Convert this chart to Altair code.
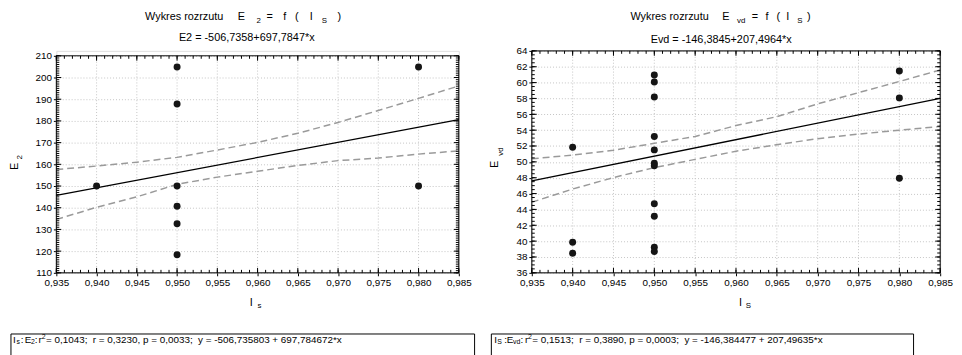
import altair as alt
import pandas as pd

FONT = "Liberation Sans"

# ---------------- data ----------------
x_ticks = [0.935, 0.94, 0.945, 0.95, 0.955, 0.96, 0.965, 0.97, 0.975, 0.98, 0.985]
x_minor = [round(0.935 + 0.001 * i, 3) for i in range(51)]

# left panel: E2 = f(Is)
e2_x = [0.94, 0.95, 0.95, 0.95, 0.95, 0.95, 0.95, 0.98, 0.98]
e2_y = [150, 204.8, 187.8, 150, 140.7, 132.6, 118.3, 204.8, 150]
band_x = [0.935, 0.94, 0.945, 0.95, 0.955, 0.96, 0.965, 0.97, 0.975, 0.98, 0.985]
e2_upper = [157.6, 159.2, 161.0, 163.2, 166.6, 170.1, 174.3, 179.3, 184.8, 190.4, 196.1]
e2_lower = [134.6, 140.2, 145.0, 150.8, 154.1, 156.8, 159.5, 161.7, 162.9, 164.7, 166.2]
fit_x = [0.935, 0.985]
e2_fit = [145.7, 180.6]
e2_yticks = [110, 120, 130, 140, 150, 160, 170, 180, 190, 200, 210]
e2_yminor = list(range(110, 211))

# right panel: Evd = f(Is)
evd_x = [0.94] * 3 + [0.95] * 11 + [0.98] * 3
evd_y = [51.84, 39.85, 38.48,
         60.97, 60.06, 58.19, 53.21, 51.51, 49.81, 49.52, 44.71, 43.13, 39.23, 38.69,
         61.47, 58.07, 47.94]
evd_upper = [50.39, 50.85, 51.47, 52.34, 53.2, 54.58, 55.7, 57.32, 58.73, 60.14, 61.59]
evd_lower = [44.91, 46.57, 48.02, 49.27, 50.31, 51.34, 52.17, 52.92, 53.5, 54.0, 54.46]
evd_fit = [47.6, 58.0]
evd_yticks = [36, 38, 40, 42, 44, 46, 48, 50, 52, 54, 56, 58, 60, 62, 64]
evd_yminor = [36 + 0.5 * i for i in range(57)]

NB = "\u00a0"
GRID = "#c4c4c4"


def txt(text, x, y, size=11, angle=0, align="left"):
    return alt.Chart(alt.Data(values=[{}])).mark_text(
        font=FONT, fontSize=size, color="black", align=align, baseline="middle",
        angle=angle,
    ).encode(x=alt.value(x), y=alt.value(y), text=alt.value(text))


def panel(px, py, upper, lower, fit, ydom, yticks, yminor, W, H, T, texts, box):
    xs = alt.Scale(domain=[0.935, 0.985], nice=False, zero=False)
    ys = alt.Scale(domain=ydom, nice=False, zero=False, range=[H, T])
    pts = pd.DataFrame({"x": px, "y": py})
    bands = pd.DataFrame({
        "x": band_x + band_x,
        "y": upper + lower,
        "b": ["u"] * len(band_x) + ["l"] * len(band_x),
    })
    fitdf = pd.DataFrame({"x": fit_x, "y": fit})

    axis_common = dict(
        gridColor=GRID, gridDash=[1, 2], gridWidth=1,
        domain=False, tickColor="black", tickSize=3, labelFont=FONT,
        labelFontSize=10, labelColor="black", title=None, labelPadding=2,
        labelFlush=False, labelOverlap=False,
    )
    xaxis = alt.Axis(values=x_ticks, grid=False,
                     labelExpr="replace(format(datum.value, '.3f'), '.', ',')",
                     **axis_common)
    yaxis = alt.Axis(values=yticks, format="d", grid=True, **axis_common)

    def X(f):
        return alt.X(f, scale=xs, axis=xaxis)

    def Y(f):
        return alt.Y(f, scale=ys, axis=yaxis)

    xM = pd.DataFrame({"t": x_ticks})
    xgrid = alt.Chart(xM).mark_rule(color=GRID, strokeDash=[1, 2], strokeWidth=1).encode(
        x=X("t:Q"), y=alt.value(T), y2=alt.value(H))

    band_layer = alt.Chart(bands).mark_line(
        color="#9a9a9a", strokeWidth=1.5, strokeDash=[7, 4]
    ).encode(x=X("x:Q"), y=Y("y:Q"), detail="b:N")
    fit_layer = alt.Chart(fitdf).mark_line(color="black", strokeWidth=1.3).encode(
        x=X("x:Q"), y=Y("y:Q"))
    points = alt.Chart(pts).mark_circle(size=50, color="#151515", opacity=1).encode(
        x=X("x:Q"), y=Y("y:Q"))

    xm = pd.DataFrame({"t": x_minor})
    ym = pd.DataFrame({"t": yminor})
    yM = pd.DataFrame({"t": yticks})
    tick_layers = []
    for df, ln in ((xm, 3), (xM, 5)):
        for y0, y1 in ((H, H - ln), (T, T + ln)):
            tick_layers.append(alt.Chart(df).mark_rule(color="black", strokeWidth=1).encode(
                x=X("t:Q"), y=alt.value(y0), y2=alt.value(y1)))
    for df, ln in ((ym, 3), (yM, 5)):
        for x0, x1 in ((0, ln), (W, W - ln)):
            tick_layers.append(alt.Chart(df).mark_rule(color="black", strokeWidth=1).encode(
                y=Y("t:Q"), x=alt.value(x0), x2=alt.value(x1)))

    frame = alt.Chart(alt.Data(values=[{}])).mark_rect(
        fillOpacity=0, stroke="black", strokeWidth=1
    ).encode(x=alt.value(0), x2=alt.value(W), y=alt.value(T), y2=alt.value(H))

    bx0, by0, bx1, by1 = box
    rect = alt.Chart(alt.Data(values=[{}])).mark_rect(
        fillOpacity=0, stroke="black", strokeWidth=1
    ).encode(x=alt.value(bx0), x2=alt.value(bx1), y=alt.value(by0), y2=alt.value(by1))

    text_layers = [txt(*t) for t in texts]
    return alt.layer(xgrid, band_layer, fit_layer, points, *tick_layers, frame, rect,
                     *text_layers).properties(width=W, height=H)


# ---------------- left ----------------
WL, HL, TL = 408, 225, 5
left_texts = [
    ("Wykres rozrzutu", 90, -34), ("E", 184, -34), ("2", 203, -30.5, 8),
    ("=", 213, -34), ("f", 230, -34), ("(", 242, -34), ("I", 257, -34),
    ("S", 269, -30.5, 8), (")", 285, -34),
    ("E2 = -506,7358+697,7847*x", 193, -13, 11, 0, "center"),
    ("I", 196, 256), ("s", 204, 259, 8),
    ("E", -42, 117, 11, 270, "center"), ("2", -37, 108, 8, 270, "center"),
    ("I", -44, 293, 10), ("s", -40.3, 295, 7), (":", -36, 293, 10),
    ("E", -32, 293, 10), ("2", -25.8, 295, 7), (":", -22, 293, 10),
    ("r", -18, 293, 10), ("2", -14.8, 290, 7),
    ("= 0,1043;" + NB + NB + "r = 0,3230, p = 0,0033;" + NB + NB +
     "y = -506,735803 + 697,784672*x", -10.5, 293, 10),
]
left = panel(e2_x, e2_y, e2_upper, e2_lower, e2_fit, [110, 210], e2_yticks,
             e2_yminor, WL, HL, TL, left_texts, (-46, 287, 424, 317))

# ---------------- right ----------------
WR, HR, TR = 414, 225, 0
right_texts = [
    ("Wykres rozrzutu", 100, -34), ("E", 193, -34), ("vd", 208, -30.5, 8),
    ("=", 223, -34), ("f", 237, -34), ("(", 248, -34), ("I", 258, -34),
    ("S", 269, -30.5, 8), (")", 279, -34),
    ("Evd = -146,3845+207,4964*x", 192, -11, 11, 0, "center"),
    ("I", 210, 256), ("S", 217, 259, 8),
    ("E", -37, 115, 11, 270, "center"), ("vd", -31.5, 102, 8, 270, "center"),
    ("I", -38, 293, 10), ("S", -35, 295, 7), (":", -28, 293, 10), ("E", -25.5, 293, 10),
    ("vd", -19, 295, 7), (":", -11.5, 293, 10), ("r", -7, 293, 10), ("2", -3.8, 290, 7),
    ("= 0,1513;" + NB + NB + "r = 0,3890, p = 0,0003;" + NB + NB +
     "y = -146,384477 + 207,49635*x", 0.5, 293, 10),
]
right = panel(evd_x, evd_y, evd_upper, evd_lower, evd_fit, [36, 64], evd_yticks,
              evd_yminor, WR, HR, TR, right_texts, (-41, 287, 387, 317))

chart = alt.hconcat(left, right, spacing=13).properties(
    padding=0, background="white"
).configure_view(stroke="transparent").configure(font=FONT)

chart.save("out.html", embed_options={"renderer": "svg", "actions": False})
